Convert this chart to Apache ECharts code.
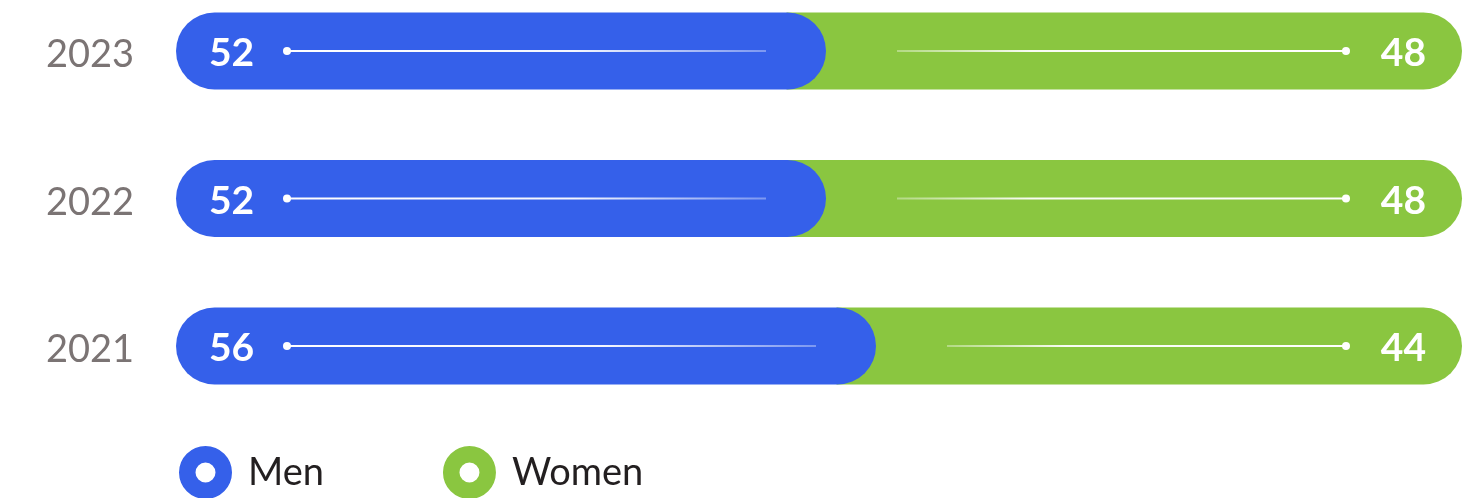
<!DOCTYPE html>
<html>
<head>
<meta charset="utf-8">
<script src="https://cdn.jsdelivr.net/npm/echarts@6/dist/echarts.min.js"></script>
<style>
  html, body { margin: 0; padding: 0; background: #fff; }
  #chart { width: 1476px; height: 498px; }
</style>
</head>
<body>
<div id="chart"></div>
<script>
// Share of men and women per year (percent), bottom row first
const years = ['2021', '2022', '2023'];
const men = [56, 52, 52];
const women = [44, 48, 48];

const BLUE = '#3560ea';
const GREEN = '#8ac640';
const BAR_H = 77;
const FONT = 'Lato, "Open Sans", sans-serif';

// ring marker used in the legend
const ringIcon = 'path://M26.5,0A26.5,26.5 0 1,1 26.5,53A26.5,26.5 0 1,1 26.5,0Z' +
  'M26.5,16.5A10,10 0 1,0 26.5,36.5A10,10 0 1,0 26.5,16.5Z';

function whiteFade(stops) {
  return new echarts.graphic.LinearGradient(0, 0, 1, 0, stops);
}

function renderMen(params, api) {
  const i = api.value(1);
  const v = api.value(0);
  const p0 = api.coord([0, i]);
  const p1 = api.coord([v, i]);
  const yc = p0[1];
  const lineStart = p0[0] + 111;
  const lineEnd = p1[0] - 60;
  return {
    type: 'group',
    children: [
      {
        type: 'rect',
        shape: { x: p0[0], y: yc - BAR_H / 2, width: p1[0] - p0[0], height: BAR_H, r: BAR_H / 2 },
        style: { fill: api.visual('color') }
      },
      {
        type: 'line',
        shape: { x1: lineStart, y1: yc, x2: lineEnd, y2: yc },
        style: {
          stroke: whiteFade([
            { offset: 0, color: 'rgba(255,255,255,1)' },
            { offset: 0.6, color: 'rgba(255,255,255,0.95)' },
            { offset: 1, color: 'rgba(255,255,255,0.35)' }
          ]),
          lineWidth: 2.2
        }
      },
      {
        type: 'circle',
        shape: { cx: lineStart, cy: yc, r: 4 },
        style: { fill: '#fff' }
      },
      {
        type: 'text',
        x: p0[0] + 33,
        y: yc + 2.5,
        style: {
          text: String(v), fill: '#fff', font: 'bold 39px ' + FONT,
          align: 'left', verticalAlign: 'middle',
          textAlign: 'left', textVerticalAlign: 'middle'
        }
      }
    ]
  };
}

function renderWomen(params, api) {
  const i = api.value(1);
  const v = api.value(0);
  const m = men[params.dataIndex];
  const s = api.coord([m, i]);
  const e = api.coord([m + v, i]);
  const yc = s[1];
  const capExt = BAR_H / 2 - 2.5;
  const x0 = s[0] - BAR_H / 2 - 1;
  const x1 = e[0] + capExt;
  const lineStart = s[0] + 71;
  const lineEnd = e[0] - 80;
  return {
    type: 'group',
    children: [
      {
        type: 'rect',
        shape: { x: x0, y: yc - BAR_H / 2, width: x1 - x0, height: BAR_H, r: [0, BAR_H / 2, BAR_H / 2, 0] },
        style: { fill: api.visual('color') }
      },
      {
        type: 'line',
        shape: { x1: lineStart, y1: yc, x2: lineEnd, y2: yc },
        style: {
          stroke: whiteFade([
            { offset: 0, color: 'rgba(255,255,255,0.35)' },
            { offset: 0.3, color: 'rgba(255,255,255,0.95)' },
            { offset: 1, color: 'rgba(255,255,255,1)' }
          ]),
          lineWidth: 2.2
        }
      },
      {
        type: 'circle',
        shape: { cx: lineEnd, cy: yc, r: 4 },
        style: { fill: '#fff' }
      },
      {
        type: 'text',
        x: e[0],
        y: yc + 2.5,
        style: {
          text: String(v), fill: '#fff', font: 'bold 39px ' + FONT,
          align: 'right', verticalAlign: 'middle',
          textAlign: 'right', textVerticalAlign: 'middle'
        }
      }
    ]
  };
}

const chart = echarts.init(document.getElementById('chart'), null, { renderer: 'canvas' });
chart.setOption({
  animation: false,
  backgroundColor: '#fff',
  grid: { left: 176, width: 1250, top: 51, bottom: 152 },
  xAxis: {
    type: 'value', min: 0, max: 100, show: false
  },
  yAxis: {
    type: 'category',
    data: years,
    boundaryGap: false,
    axisLine: { show: false },
    axisTick: { show: false },
    splitLine: { show: false },
    axisLabel: {
      align: 'left', margin: 130,
      verticalAlign: 'top', lineHeight: 8,
      color: '#7b7474', fontSize: 38, fontFamily: FONT
    }
  },
  legend: {
    data: ['Men', 'Women'],
    left: 179,
    top: 446,
    padding: 0,
    icon: ringIcon,
    itemWidth: 53,
    itemHeight: 53,
    itemGap: 119,
    textStyle: { color: '#231f20', fontSize: 38, fontFamily: FONT, padding: [6, 0, 0, 11] }
  },
  series: [
    {
      name: 'Women',
      type: 'custom',
      z: 2,
      itemStyle: { color: GREEN },
      encode: { x: 0, y: 1 },
      data: women.map((v, i) => [v, i]),
      renderItem: renderWomen
    },
    {
      name: 'Men',
      type: 'custom',
      z: 3,
      itemStyle: { color: BLUE },
      encode: { x: 0, y: 1 },
      data: men.map((v, i) => [v, i]),
      renderItem: renderMen
    }
  ]
});
</script>
</body>
</html>
